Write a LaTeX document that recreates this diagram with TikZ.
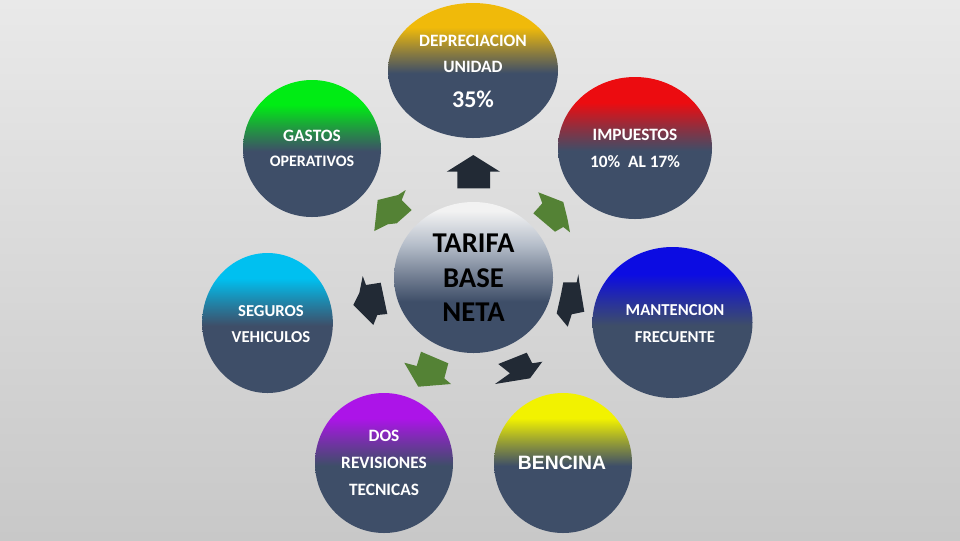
\documentclass[tikz,border=0pt]{standalone}
\usepackage{fontspec}
\setmainfont{Carlito}
\newfontfamily\arialb{Liberation Sans}
\usetikzlibrary{shapes.geometric}
\definecolor{slate}{RGB}{62,78,104}
\definecolor{bgtop}{RGB}{233,233,233}
\definecolor{bgbot}{RGB}{200,200,200}
\definecolor{cdep}{RGB}{240,186,10}
\definecolor{cgas}{RGB}{0,236,20}
\definecolor{cimp}{RGB}{236,12,16}
\definecolor{cseg}{RGB}{0,192,240}
\definecolor{cman}{RGB}{12,12,226}
\definecolor{cdos}{RGB}{172,20,232}
\definecolor{cben}{RGB}{242,242,0}
\definecolor{agreen}{RGB}{84,130,53}
\definecolor{adark}{RGB}{34,42,53}
\definecolor{ctop}{RGB}{242,242,242}
\definecolor{cmid1}{RGB}{182,190,202}
\definecolor{cmid2}{RGB}{112,124,144}
\newcommand\mkballshade[2]{\pgfdeclareverticalshading{#1}{100bp}{color(0bp)=(slate); color(49bp)=(slate); color(57bp)=(#2!45!slate); color(66bp)=(#2); color(100bp)=(#2)}}
\mkballshade{shdep}{cdep}
\mkballshade{shgas}{cgas}
\mkballshade{shimp}{cimp}
\mkballshade{shseg}{cseg}
\mkballshade{shman}{cman}
\mkballshade{shdos}{cdos}
\mkballshade{shben}{cben}
\pgfdeclareverticalshading{shtar}{100bp}{color(0bp)=(slate); color(42bp)=(slate); color(50bp)=(cmid2); color(61bp)=(cmid1); color(72bp)=(ctop); color(100bp)=(ctop)}
\tikzset{
  ball/.style={ellipse, inner sep=0pt, draw=none},
  lab/.style={inner sep=0pt, text=white, font=\bfseries\fontsize{13}{15}\selectfont},
  labs/.style={lab, font=\bfseries\fontsize{12.5}{15}\selectfont},
  garrow/.style={fill=agreen, draw=none},
  darrow/.style={fill=adark, draw=none}
}
\begin{document}
\begin{tikzpicture}[x=0.75pt, y=-0.75pt]
\fill[top color=bgtop, bottom color=bgbot] (0,0) rectangle (960,540);
\useasboundingbox (0,0) rectangle (960,540);
% circles
\node[ball, shading=shdep, minimum width=127.5pt, minimum height=101.25pt] (dep) at (473,70.5) {};
\node[ball, shading=shgas, minimum width=103.5pt, minimum height=102.75pt] (gas) at (312,148.5) {};
\node[ball, shading=shimp, minimum width=115.5pt, minimum height=106.5pt] (imp) at (635,148) {};
\node[ball, shading=shseg, minimum width=98pt, minimum height=105pt] (seg) at (267.5,323) {};
\node[ball, shading=shman, minimum width=120pt, minimum height=113.25pt] (man) at (672.5,322.5) {};
\node[ball, shading=shtar, minimum width=119.25pt, minimum height=113.25pt] (tar) at (473.5,277.5) {};
\node[ball, shading=shdos, minimum width=103.5pt, minimum height=105pt] (dos) at (384,463) {};
\node[ball, shading=shben, minimum width=103.5pt, minimum height=105pt] (ben) at (563,463) {};
% labels
\node[lab] (tdep1) at (473,41) {DEPRECIACION};
\node[lab] (tdep2) at (473,67) {UNIDAD};
\node[lab, font=\bfseries\fontsize{18}{20}\selectfont] (tdep3) at (473,99) {35\%};
\node[lab] (tgas1) at (312,136) {GASTOS};
\node[labs, font=\bfseries\fontsize{12}{14}\selectfont] (tgas2) at (312,161) {OPERATIVOS};
\node[lab] (timp1) at (635,135) {IMPUESTOS};
\node[lab] (timp2) at (635,162) {10\%\ \ AL 17\%};
\node[labs] (tseg1) at (271,311) {SEGUROS};
\node[labs] (tseg2) at (271,337) {VEHICULOS};
\node[labs] (tman1) at (675,310) {MANTENCION};
\node[labs] (tman2) at (675,337) {FRECUENTE};
\node[inner sep=0pt, text=black, align=center, font=\bfseries\fontsize{21.5}{26}\selectfont] (ttar) at (473.5,278) {TARIFA\\BASE\\NETA};
\node[lab] (tdos1) at (384,436) {DOS};
\node[lab] (tdos2) at (384,463) {REVISIONES};
\node[lab] (tdos3) at (384,490) {TECNICAS};
\node[lab, font=\arialb\bfseries\fontsize{14.5}{16}\selectfont] (tben) at (562,463) {BENCINA};
% arrows
\fill[darrow] (473.3,155) -- (500,171.7) -- (490,171.7) -- (490,188.3) -- (457.3,188.3) -- (457.3,171.7) -- (446.7,171.7) -- cycle;
\fill[garrow] (377.7,200) -- (398,195) -- (405.7,190) -- (401.7,200) -- (411.7,210) -- (396.7,223.3) -- (387.7,224.3) -- (374.3,231) -- cycle;
\fill[garrow] (538.3,192.3) -- (563.3,202) -- (567.3,218) -- (570,232.3) -- (563.3,227) -- (555,231.7) -- (533.3,213.3) -- (542.3,203.3) -- cycle;
\fill[darrow] (362.7,276) -- (366,285) -- (380.7,282.7) -- (387.3,314) -- (377.3,315) -- (373.3,325) -- (353.3,305) -- (359.3,293) -- cycle;
\fill[darrow] (578.3,274.3) -- (579.3,282) -- (584.3,311.7) -- (571.7,314.3) -- (567.7,326.7) -- (556.7,313.3) -- (561,294.3) -- (563.3,282.3) -- (576.7,282.3) -- cycle;
\fill[garrow] (404.3,362.7) -- (416.7,366) -- (421,351.7) -- (448.3,363.3) -- (444.3,378.3) -- (451,384) -- (418.3,386.7) -- cycle;
\fill[darrow] (498.3,364) -- (526.7,352.7) -- (532.3,363.3) -- (542.3,361.7) -- (530,378.3) -- (495,384) -- (510,373.3) -- cycle;
\end{tikzpicture}
\end{document}
